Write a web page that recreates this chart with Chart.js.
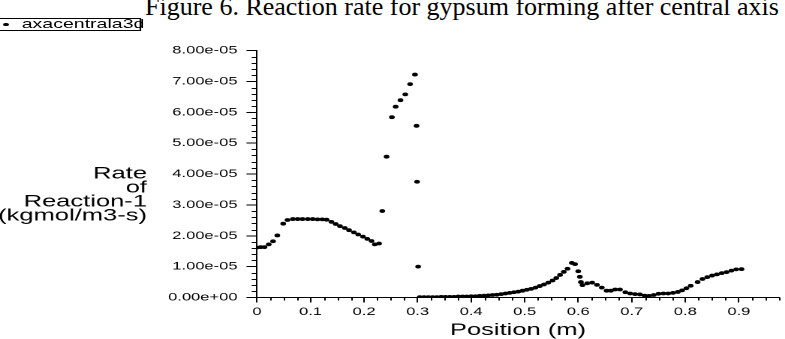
<!DOCTYPE html>
<html>
<head>
<meta charset="utf-8">
<script src="https://cdn.jsdelivr.net/npm/chart.js@4.4.1/dist/chart.umd.min.js"></script>
<style>
  html, body { margin: 0; padding: 0; background: #fff; overflow: hidden; }
  body { width: 785px; height: 339px; position: relative; }
  #title {
    position: absolute; left: 145px; top: -6px; white-space: nowrap;
    font-family: "Liberation Serif", "Times New Roman", serif; font-size: 26px; line-height: 26px; color: #000;
  }
  #wrap {
    position: absolute; left: 0; top: 0; width: 523px; height: 339px;
    transform: scaleX(1.501); transform-origin: 0 0;
  }
  #legend {
    position: absolute; left: -1px; top: 18px; width: 95px; height: 13px;
    border: 1px solid #000; box-sizing: border-box; background: #fff;
    font-family: "Liberation Sans", Arial, sans-serif; font-size: 13px; line-height: 12px; color: #000;
  }
  #legend .dot { position: absolute; left: 2px; top: 3.5px; width: 3.5px; height: 3.5px; border-radius: 50%; background: #000; }
  #legend .txt { position: absolute; left: 14.5px; top: -1px; white-space: nowrap; }
</style>
</head>
<body>
<div id="title">Figure 6. Reaction rate for gypsum forming after central axis</div>
<div id="wrap">
  <canvas id="grafico"></canvas>
  <div id="legend"><span class="dot"></span><span class="txt" id="legendTxt"></span></div>
</div>
<script>
// dados
const seriesName = 'axacentrala3d';
const positions = [
  0.000, 0.007, 0.014, 0.022, 0.030, 0.038, 0.049, 0.057, 0.067, 0.076,
  0.085, 0.095, 0.104, 0.113, 0.122, 0.130, 0.139, 0.147, 0.155, 0.164,
  0.172, 0.181, 0.189, 0.198, 0.206, 0.214, 0.220, 0.228, 0.234, 0.242,
  0.252, 0.259, 0.268, 0.277, 0.286, 0.295, 0.298, 0.299, 0.301,
  0.304, 0.312, 0.320, 0.328, 0.336, 0.344, 0.352, 0.360, 0.368, 0.376,
  0.384, 0.392, 0.400, 0.408, 0.416, 0.424, 0.432, 0.440, 0.448, 0.456,
  0.464, 0.472, 0.480, 0.488, 0.496, 0.504, 0.512, 0.520, 0.528, 0.536,
  0.544, 0.552, 0.559, 0.566, 0.573, 0.580, 0.588, 0.594, 0.600, 0.603,
  0.605, 0.608, 0.617, 0.626, 0.635, 0.644, 0.653, 0.661, 0.669, 0.678,
  0.688, 0.697, 0.706, 0.715, 0.724, 0.732, 0.741, 0.750, 0.759, 0.768,
  0.777, 0.786, 0.794, 0.802, 0.810, 0.823, 0.832, 0.841, 0.850, 0.859,
  0.868, 0.877, 0.886, 0.895, 0.905
];
const rates = [
  1.62e-5, 1.63e-5, 1.63e-5, 1.72e-5, 1.82e-5, 2.01e-5, 2.39e-5, 2.51e-5, 2.54e-5, 2.54e-5,
  2.54e-5, 2.54e-5, 2.54e-5, 2.53e-5, 2.53e-5, 2.52e-5, 2.45e-5, 2.38e-5, 2.31e-5, 2.25e-5,
  2.18e-5, 2.11e-5, 2.04e-5, 1.97e-5, 1.90e-5, 1.83e-5, 1.72e-5, 1.75e-5, 2.80e-5, 4.56e-5,
  5.84e-5, 6.18e-5, 6.39e-5, 6.58e-5, 6.91e-5, 7.22e-5, 5.56e-5, 3.75e-5, 1.00e-5,
  0.01e-5, 0.01e-5, 0.01e-5, 0.01e-5, 0.01e-5, 0.02e-5, 0.02e-5, 0.02e-5, 0.02e-5, 0.03e-5,
  0.03e-5, 0.03e-5, 0.04e-5, 0.04e-5, 0.05e-5, 0.06e-5, 0.07e-5, 0.08e-5, 0.09e-5, 0.11e-5,
  0.13e-5, 0.15e-5, 0.17e-5, 0.19e-5, 0.22e-5, 0.25e-5, 0.28e-5, 0.32e-5, 0.37e-5, 0.42e-5,
  0.48e-5, 0.55e-5, 0.63e-5, 0.73e-5, 0.83e-5, 0.93e-5, 1.12e-5, 1.08e-5, 0.85e-5, 0.67e-5,
  0.50e-5, 0.40e-5, 0.46e-5, 0.48e-5, 0.41e-5, 0.32e-5, 0.22e-5, 0.22e-5, 0.26e-5, 0.26e-5,
  0.17e-5, 0.13e-5, 0.11e-5, 0.10e-5, 0.06e-5, 0.05e-5, 0.08e-5, 0.12e-5, 0.13e-5, 0.13e-5,
  0.15e-5, 0.18e-5, 0.23e-5, 0.30e-5, 0.38e-5, 0.50e-5, 0.60e-5, 0.66e-5, 0.71e-5, 0.75e-5,
  0.79e-5, 0.82e-5, 0.87e-5, 0.91e-5, 0.92e-5
];
const yTitleLines = ['Rate', 'of', 'Reaction-1', '(kgmol/m3-s)'];
const xTitle = 'Position (m)';

const fonte = '"Liberation Sans", Arial, sans-serif';

document.getElementById('legendTxt').textContent = seriesName;

// formato 8.00e-05
function sci(v) {
  if (Math.abs(v) < 1e-12) return '0.00e+00';
  const e = Math.floor(Math.log10(Math.abs(v)) + 1e-9);
  const m = v / Math.pow(10, e);
  return m.toFixed(2) + 'e' + (e < 0 ? '-' : '+') + String(Math.abs(e)).padStart(2, '0');
}

// tracinhos menores nos eixos
const minorTicks = {
  id: 'minorTicks',
  afterDraw(chart) {
    const c = chart.ctx;
    const xs = chart.scales.x, ys = chart.scales.y;
    const a = chart.chartArea;
    c.save();
    c.strokeStyle = '#000';
    c.lineWidth = 1;
    c.beginPath();
    for (let i = 0; i <= 39; i++) {
      if (i % 4 === 0) continue;
      const px = Math.round(xs.getPixelForValue(i * 0.025)) + 0.5;
      c.moveTo(px, a.bottom);
      c.lineTo(px, a.bottom + 3);
    }
    for (let i = 0; i <= 40; i++) {
      if (i % 5 === 0) continue;
      const py = Math.round(ys.getPixelForValue(i * 0.2e-5)) + 0.5;
      c.moveTo(a.left - 3.5, py);
      c.lineTo(a.left, py);
    }
    c.stroke();
    c.restore();
  }
};

// titulo do eixo y na horizontal, alinhado a direita
const yTitle = {
  id: 'yTitle',
  afterDraw(chart) {
    const c = chart.ctx;
    c.save();
    c.fillStyle = '#000';
    c.font = '17px ' + fonte;
    c.textAlign = 'right';
    c.textBaseline = 'middle';
    yTitleLines.forEach((t, i) => c.fillText(t, 97.9, 174 + i * 14));
    c.restore();
  }
};

const pontos = positions.map((x, i) => ({ x: x, y: rates[i] }));

const grafico = new Chart(document.getElementById('grafico'), {
  type: 'scatter',
  data: {
    datasets: [{
      label: seriesName,
      data: pontos,
      pointRadius: 1.9,
      pointBackgroundColor: '#000',
      pointBorderWidth: 0,
      showLine: false
    }]
  },
  options: {
    responsive: true,
    maintainAspectRatio: false,
    animation: false,
    devicePixelRatio: 2,
    layout: { padding: { top: 50.5, right: 3.3, left: 0, bottom: 0 } },
    plugins: {
      legend: { display: false },
      tooltip: { enabled: false }
    },
    scales: {
      x: {
        type: 'linear',
        min: 0,
        max: 0.975,
        afterFit: (s) => { s.height = 41.5; },
        border: { color: '#000', width: 1 },
        grid: { drawOnChartArea: false, tickLength: 5, color: '#000' },
        ticks: {
          stepSize: 0.1,
          includeBounds: false,
          padding: 3,
          maxRotation: 0,
          color: '#000',
          font: { family: fonte, size: 11 }
        },
        title: {
          display: true,
          text: xTitle,
          color: '#000',
          padding: 0,
          font: { family: fonte, size: 17, lineHeight: 1 }
        }
      },
      y: {
        min: 0,
        max: 8e-5,
        afterFit: (s) => { s.width = 171.2; },
        border: { color: '#000', width: 1 },
        grid: { drawOnChartArea: false, tickLength: 7, color: '#000' },
        ticks: {
          stepSize: 1e-5,
          padding: 6,
          color: '#000',
          font: { family: fonte, size: 11 },
          callback: (v) => sci(v)
        }
      }
    }
  },
  plugins: [minorTicks, yTitle]
});
</script>
</body>
</html>
